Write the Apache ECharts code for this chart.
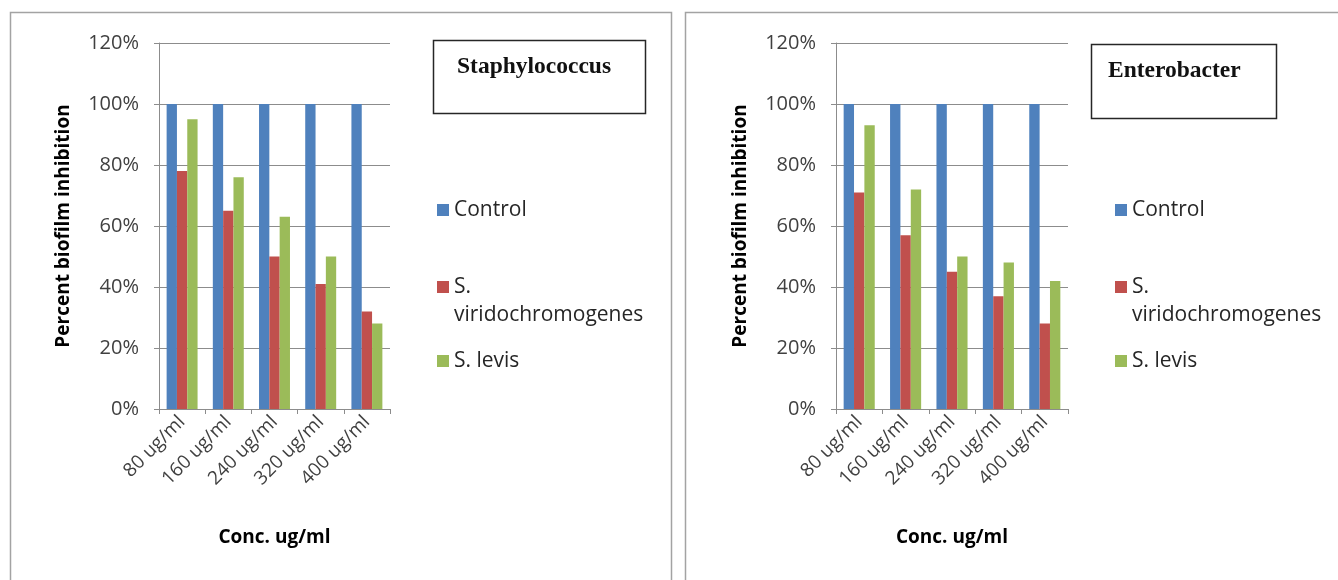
<!DOCTYPE html>
<html>
<head>
<meta charset="utf-8">
<title>Percent biofilm inhibition</title>
<script src="https://cdn.jsdelivr.net/npm/echarts@6/dist/echarts.min.js"></script>
<style>
  html, body { margin: 0; padding: 0; background: #ffffff; }
  #chart { width: 1338px; height: 580px; }
</style>
</head>
<body>
<div id="chart"></div>
<script>
// Concentrations tested
const categories = ['80 ug/ml', '160 ug/ml', '240 ug/ml', '320 ug/ml', '400 ug/ml'];

// Series labels
const seriesNames = ['Control', 'S. viridochromogenes', 'S. levis'];

// Y axis tick labels (0 .. 1.2 in steps of 0.2)
const yTickLabels = ['0%', '20%', '40%', '60%', '80%', '100%', '120%'];

// Staphylococcus — fraction of biofilm inhibited
const staphControl = [1.00, 1.00, 1.00, 1.00, 1.00];
const staphViridochromogenes = [0.78, 0.65, 0.50, 0.41, 0.32];
const staphLevis = [0.95, 0.76, 0.63, 0.50, 0.28];

// Enterobacter — fraction of biofilm inhibited
const enteroControl = [1.00, 1.00, 1.00, 1.00, 1.00];
const enteroViridochromogenes = [0.71, 0.57, 0.45, 0.37, 0.28];
const enteroLevis = [0.93, 0.72, 0.50, 0.48, 0.42];

const colors = ['#4f81bd', '#c0504d', '#9bbb59'];
const gridGray = '#8c8c8c';
const labelFont = '"Open Sans", Lato, sans-serif';
const serifFont = '"Liberation Serif", "Times New Roman", serif';

function xAxisFor(gridIndex) {
  return {
    type: 'category',
    gridIndex: gridIndex,
    data: categories,
    name: 'Conc. ug/ml',
    nameLocation: 'middle',
    nameGap: 119,
    nameTextStyle: { fontFamily: labelFont, fontWeight: 'bold', fontSize: 19, color: '#000' },
    axisLine: { lineStyle: { color: gridGray, width: 1 } },
    axisTick: { show: true, length: 5, lineStyle: { color: gridGray } },
    axisLabel: { rotate: 45, fontFamily: labelFont, fontSize: 19, color: '#404040', margin: 10, interval: 0 }
  };
}

function yAxisFor(gridIndex) {
  return {
    type: 'value',
    gridIndex: gridIndex,
    min: 0,
    max: 1.2,
    interval: 0.2,
    name: 'Percent biofilm inhibition',
    nameLocation: 'middle',
    nameGap: 86,
    nameTextStyle: { fontFamily: labelFont, fontWeight: 'bold', fontSize: 19, color: '#000' },
    axisLine: { show: true, lineStyle: { color: gridGray, width: 1 } },
    axisTick: { show: true, length: 5, lineStyle: { color: gridGray } },
    splitLine: { show: true, lineStyle: { color: gridGray, width: 1 } },
    axisLabel: {
      fontFamily: labelFont, fontSize: 20, color: '#404040', margin: 20,
      formatter: function (v) { return yTickLabels[Math.round(v / 0.2)]; }
    }
  };
}

function barSeries(gridIndex, values) {
  return values.map(function (data, i) {
    return {
      name: seriesNames[i],
      type: 'bar',
      xAxisIndex: gridIndex,
      yAxisIndex: gridIndex,
      data: data,
      barGap: '0%',
      barCategoryGap: '33%',
      itemStyle: { color: colors[i] },
      emphasis: { disabled: true }
    };
  });
}

// One single-item legend per entry so each row sits at its own height
function legendsAt(left) {
  const base = {
    left: left,
    orient: 'vertical',
    padding: 0,
    icon: 'rect',
    itemWidth: 12,
    itemHeight: 12,
    selectedMode: false,
    textStyle: { fontFamily: labelFont, fontSize: 21, color: '#262626', lineHeight: 28 }
  };
  return [
    Object.assign({}, base, { top: 196, data: [seriesNames[0]] }),
    Object.assign({}, base, {
      top: 245, data: [seriesNames[1]],
      formatter: function () { return ' \nS.\nviridochromogenes'; }
    }),
    Object.assign({}, base, { top: 347, data: [seriesNames[2]] })
  ];
}

const chart = echarts.init(document.getElementById('chart'), null, { renderer: 'canvas' });

chart.setOption({
  backgroundColor: '#ffffff',
  animation: false,
  title: [
    { text: 'Staphylococcus', left: 457, top: 55, padding: 0,
      textStyle: { fontFamily: serifFont, fontWeight: 'bold', fontSize: 23.5, color: '#111' } },
    { text: 'Enterobacter', left: 1108, top: 59, padding: 0,
      textStyle: { fontFamily: serifFont, fontWeight: 'bold', fontSize: 23.5, color: '#111' } }
  ],
  legend: legendsAt(437).concat(legendsAt(1115)),
  grid: [
    { left: 159, top: 43, width: 231, height: 366, containLabel: false },
    { left: 836, top: 43, width: 232, height: 366, containLabel: false }
  ],
  xAxis: [xAxisFor(0), xAxisFor(1)],
  yAxis: [yAxisFor(0), yAxisFor(1)],
  series: barSeries(0, [staphControl, staphViridochromogenes, staphLevis])
    .concat(barSeries(1, [enteroControl, enteroViridochromogenes, enteroLevis])),
  graphic: [
    // chart frames
    { type: 'rect', silent: true, z: -1,
      shape: { x: 10.5, y: 12.5, width: 661, height: 620 },
      style: { fill: 'none', stroke: '#a3a3a3', lineWidth: 1.5 } },
    { type: 'rect', silent: true, z: -1,
      shape: { x: 685.5, y: 12.5, width: 700, height: 620 },
      style: { fill: 'none', stroke: '#a3a3a3', lineWidth: 1.5 } },
    // title boxes
    { type: 'rect', silent: true,
      shape: { x: 433.5, y: 40.5, width: 212, height: 73 },
      style: { fill: 'none', stroke: '#262626', lineWidth: 1.5 } },
    { type: 'rect', silent: true,
      shape: { x: 1091.5, y: 44.5, width: 185, height: 74 },
      style: { fill: 'none', stroke: '#262626', lineWidth: 1.5 } }
  ]
});
</script>
</body>
</html>
